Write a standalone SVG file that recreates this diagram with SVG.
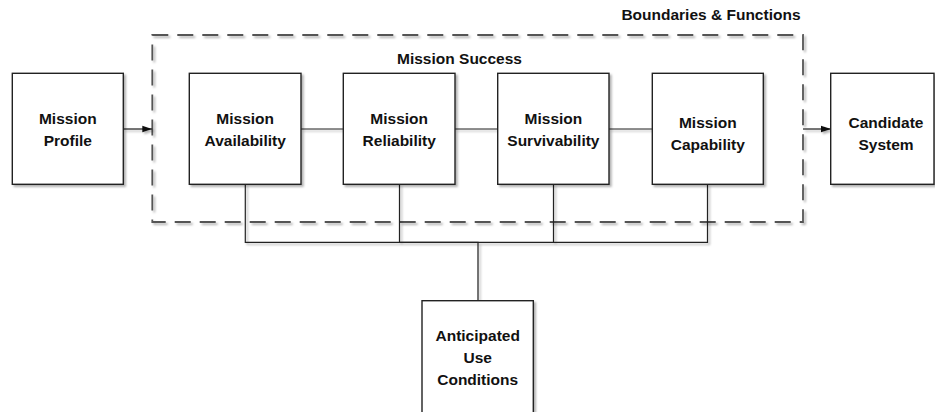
<svg xmlns="http://www.w3.org/2000/svg" width="935" height="412" viewBox="0 0 935 412">
  <style>
    .box { fill: #ffffff; stroke: #222222; stroke-width: 1.4; }
    .lbl { font-family: "Liberation Sans", Arial, sans-serif; font-weight: bold; font-size: 15.5px; fill: #111111; text-anchor: middle; }
    .title { font-family: "Liberation Sans", Arial, sans-serif; font-weight: bold; font-size: 15.5px; fill: #111111; }
    .conn { fill: none; stroke: #222222; stroke-width: 1.2; }
    .boundary { fill: none; stroke: #555555; stroke-width: 1.8; stroke-dasharray: 16 9; }
  </style>
  <defs>
    <filter id="shadow" x="-10%" y="-10%" width="130%" height="130%">
      <feDropShadow dx="2" dy="2" stdDeviation="1.2" flood-color="#000000" flood-opacity="0.3"/>
    </filter>
    <marker id="arrow" markerUnits="userSpaceOnUse" markerWidth="10" markerHeight="8" refX="10" refY="4" orient="auto">
      <path d="M0,0.8 L10,4 L0,7.2 Z" fill="#111111"/>
    </marker>
  </defs>

  <g id="boundaries-functions" filter="url(#shadow)">
    <rect class="boundary" x="152.3" y="35" width="650.7" height="187"/>
  </g>
  <text class="title" x="800.5" y="20" text-anchor="end">Boundaries &amp; Functions</text>
  <text class="title" x="459.5" y="63.5" text-anchor="middle">Mission Success</text>

  <g id="connectors" filter="url(#shadow)">
    <line class="conn" x1="123.3" y1="129" x2="152.3" y2="129" marker-end="url(#arrow)"/>
    <line class="conn" x1="803" y1="129" x2="831" y2="129" marker-end="url(#arrow)"/>
    <line class="conn" x1="301" y1="129" x2="343.3" y2="129"/>
    <line class="conn" x1="455" y1="129" x2="497.7" y2="129"/>
    <line class="conn" x1="609" y1="129" x2="652.3" y2="129"/>
    <path class="conn" d="M245.3,184.3 V242.3 H478 V300.7"/>
    <path class="conn" d="M399.5,184.3 V242.3 H478"/>
    <path class="conn" d="M553.5,184.3 V242.3 H478"/>
    <path class="conn" d="M707.5,184.3 V242.3 H553.5"/>
  </g>

  <g id="mission-profile">
    <rect class="box" filter="url(#shadow)" x="12.3" y="73.3" width="111" height="111"/>
    <text class="lbl" x="67.8" y="124">Mission</text>
    <text class="lbl" x="67.8" y="146">Profile</text>
  </g>

  <g id="mission-availability">
    <rect class="box" filter="url(#shadow)" x="189.3" y="73.3" width="111.7" height="111"/>
    <text class="lbl" x="245.2" y="124">Mission</text>
    <text class="lbl" x="245.2" y="146">Availability</text>
  </g>

  <g id="mission-reliability">
    <rect class="box" filter="url(#shadow)" x="343.3" y="73.3" width="111.7" height="111"/>
    <text class="lbl" x="399.2" y="124">Mission</text>
    <text class="lbl" x="399.2" y="146">Reliability</text>
  </g>

  <g id="mission-survivability">
    <rect class="box" filter="url(#shadow)" x="497.7" y="73.3" width="111.3" height="111"/>
    <text class="lbl" x="553.4" y="124">Mission</text>
    <text class="lbl" x="553.4" y="146">Survivability</text>
  </g>

  <g id="mission-capability">
    <rect class="box" filter="url(#shadow)" x="652.3" y="73.3" width="111" height="111"/>
    <text class="lbl" x="707.8" y="128">Mission</text>
    <text class="lbl" x="707.8" y="150">Capability</text>
  </g>

  <g id="candidate-system">
    <rect class="box" filter="url(#shadow)" x="830.7" y="73.3" width="103.3" height="111"/>
    <text class="lbl" x="886" y="128">Candidate</text>
    <text class="lbl" x="886" y="150">System</text>
  </g>

  <g id="anticipated-use-conditions">
    <rect class="box" filter="url(#shadow)" x="422" y="300.7" width="111.3" height="130"/>
    <text class="lbl" x="477.7" y="340.5">Anticipated</text>
    <text class="lbl" x="477.7" y="362.5">Use</text>
    <text class="lbl" x="477.7" y="384.5">Conditions</text>
  </g>
</svg>
